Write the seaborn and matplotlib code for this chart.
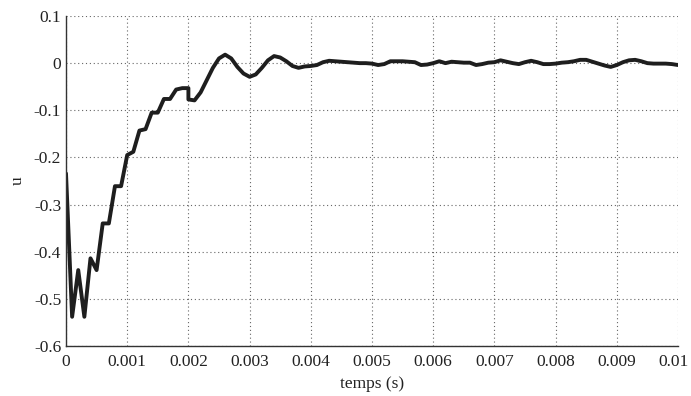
import numpy as np
import pandas as pd
import matplotlib
matplotlib.use('Agg')
import matplotlib.pyplot as plt
from matplotlib.ticker import AutoMinorLocator, FuncFormatter, FormatStrFormatter, MultipleLocator
import seaborn as sns

# ── data (time in s, command u) ─────────────────────────────────────
t = [0.0000, 0.0001, 0.0002, 0.0003, 0.0004, 0.0005, 0.0006, 0.0007, 0.0008, 0.0009,
     0.0010, 0.0011, 0.0012, 0.0013, 0.0014, 0.0015, 0.0016, 0.0017, 0.0018, 0.0019,
     0.0020, 0.0020, 0.0021, 0.0022, 0.0023, 0.0024, 0.0025, 0.0026, 0.0027, 0.0028,
     0.0029, 0.0030, 0.0031, 0.0032, 0.0033, 0.0034, 0.0035, 0.0036, 0.0037, 0.0038,
     0.0039, 0.0040, 0.0041, 0.0042, 0.0043, 0.0044, 0.0045, 0.0046, 0.0047, 0.0048,
     0.0049, 0.0050, 0.0051, 0.0052, 0.0053, 0.0054, 0.0055, 0.0056, 0.0057, 0.0058,
     0.0059, 0.0060, 0.0061, 0.0062, 0.0063, 0.0064, 0.0065, 0.0066, 0.0067, 0.0068,
     0.0069, 0.0070, 0.0071, 0.0072, 0.0073, 0.0074, 0.0075, 0.0076, 0.0077, 0.0078,
     0.0079, 0.0080, 0.0081, 0.0082, 0.0083, 0.0084, 0.0085, 0.0086, 0.0087, 0.0088,
     0.0089, 0.0090, 0.0091, 0.0092, 0.0093, 0.0094, 0.0095, 0.0096, 0.0097, 0.0098,
     0.0099, 0.0100]
u = [-0.234, -0.538, -0.439, -0.538, -0.414, -0.439, -0.340, -0.340, -0.261, -0.261,
     -0.195, -0.188, -0.143, -0.140, -0.105, -0.105, -0.076, -0.076, -0.056, -0.053,
     -0.053, -0.077, -0.079, -0.062, -0.036, -0.010, 0.010, 0.018, 0.010, -0.008,
     -0.022, -0.029, -0.024, -0.010, 0.006, 0.015, 0.012, 0.004, -0.006, -0.010,
     -0.007, -0.006, -0.004, 0.002, 0.005, 0.004, 0.003, 0.002, 0.001, 0.000,
     0.000, -0.001, -0.004, -0.002, 0.004, 0.004, 0.004, 0.003, 0.002, -0.004,
     -0.003, 0.000, 0.004, 0.000, 0.003, 0.002, 0.001, 0.001, -0.004, -0.002,
     0.001, 0.002, 0.006, 0.003, 0.000, -0.002, 0.002, 0.005, 0.002, -0.002,
     -0.002, -0.001, 0.001, 0.002, 0.004, 0.007, 0.007, 0.003, -0.001, -0.005,
     -0.008, -0.004, 0.002, 0.006, 0.007, 0.004, 0.000, -0.001, -0.001, -0.001,
     -0.002, -0.004]

X_MAX = 0.01

df = pd.DataFrame({'temps': t, 'u': u})

sns.set_style('white')
plt.rcParams['font.family'] = ['Liberation Serif', 'DejaVu Serif']
plt.rcParams['axes.unicode_minus'] = False

fig = plt.figure(figsize=(6.91, 3.96), dpi=100)
ax = fig.add_axes([66 / 691, 50 / 396, 612 / 691, 330 / 396])

sns.lineplot(data=df, x='temps', y='u', ax=ax, color='#1e1e1e',
             linewidth=2.8, sort=False, estimator=None)

ax.set_xlim(0, X_MAX)
ax.set_ylim(-0.6, 0.1)
ax.xaxis.set_major_locator(MultipleLocator(0.001))
ax.yaxis.set_major_locator(MultipleLocator(0.1))
ax.xaxis.set_minor_locator(AutoMinorLocator(10))
ax.yaxis.set_minor_locator(AutoMinorLocator(10))
# last x label is drawn separately so it stays inside the image
ax.xaxis.set_major_formatter(FuncFormatter(
    lambda v, pos: '' if abs(v - X_MAX) < 1e-9 else '%g' % v))
ax.yaxis.set_major_formatter(FormatStrFormatter('%g'))

ax.grid(True, which='major', linestyle=(0, (1, 2.5)), color='#666666', linewidth=0.8)
for side in ['top', 'right']:
    ax.spines[side].set_visible(False)
for side in ['left', 'bottom']:
    ax.spines[side].set_color('#333333')
    ax.spines[side].set_linewidth(1.0)

ax.tick_params(which='major', direction='in', length=5, width=0.9,
               labelsize=12.5, colors='#333333', labelcolor='#222222')
ax.tick_params(which='minor', direction='in', length=2.5, width=0.6, colors='#555555')
ax.tick_params(axis='x', pad=6)

ax.annotate('%g' % X_MAX, xy=(X_MAX, 0), xycoords=ax.get_xaxis_transform(),
            xytext=(-3, -6), textcoords='offset points', ha='center', va='top',
            fontsize=12.5, color='#222222')

ax.set_xlabel('temps (s)', fontsize=12.5, color='#222222', labelpad=4)
ax.set_ylabel('u', fontsize=12.5, color='#222222', labelpad=6)

fig.savefig('out.png', dpi=100)
plt.close(fig)
